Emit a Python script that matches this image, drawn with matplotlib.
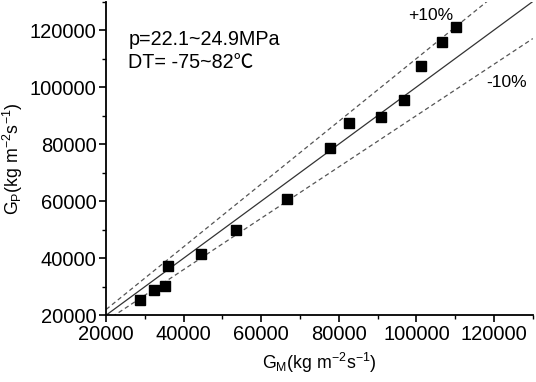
import matplotlib
matplotlib.use("Agg")
import matplotlib.pyplot as plt
import numpy as np
from matplotlib.ticker import MultipleLocator

plt.rcParams['font.family'] = ['Liberation Sans', 'DejaVu Sans']
plt.rcParams['mathtext.fontset'] = 'custom'
plt.rcParams['mathtext.rm'] = 'Liberation Sans'
plt.rcParams['mathtext.it'] = 'Liberation Sans'

g_measured = [28700, 32300, 35300, 36000, 44400, 53400, 66700, 77600, 82500,
              90800, 96900, 101200, 106700, 110300]
g_predicted = [25300, 28900, 30300, 37300, 41600, 49800, 60700, 78800, 87400,
               89600, 95400, 107300, 115700, 121200]
ticks = [20000, 40000, 60000, 80000, 100000, 120000]
line_x = [20000, 130000]

fig = plt.figure(figsize=(5.36, 3.82), dpi=100)
ax = fig.add_axes([0.198, 0.175, 0.796, 0.821])

lx = np.array(line_x)
ax.plot(lx, lx, color='#333333', lw=0.9)
ax.plot(lx, lx * 1.1, color='#555555', lw=0.9, ls=(0, (3.5, 2.5)))
ax.plot(lx, lx * 0.9, color='#555555', lw=0.9, ls=(0, (3.5, 2.5)))
ax.plot(g_measured, g_predicted, 's', color='black', markersize=6.5, clip_on=False)

ax.set_xlim(20000, 130000)
ax.set_ylim(20000, 130000)
ax.set_xticks(ticks)
ax.set_yticks(ticks)
ax.xaxis.set_minor_locator(MultipleLocator(10000))
ax.yaxis.set_minor_locator(MultipleLocator(10000))
ax.tick_params(which='major', direction='out', length=5, width=1.2, labelsize=14.5, pad=2)
ax.tick_params(which='minor', direction='out', length=3, width=1.0)
ax.spines['top'].set_visible(False)
ax.spines['right'].set_visible(False)
ax.spines['left'].set_linewidth(1.3)
ax.spines['bottom'].set_linewidth(1.3)

ax.set_xlabel(r'G$_{\mathregular{M}}$(kg m$^{\mathregular{-2}}$s$^{\mathregular{-1}}$)', fontsize=12.8, labelpad=5)
ax.set_ylabel(r'G$_{\mathregular{P}}$(kg m$^{\mathregular{-2}}$s$^{\mathregular{-1}}$)', fontsize=12.8, labelpad=3)

ax.text(0.052, 0.88, 'p=22.1~24.9MPa', transform=ax.transAxes, fontsize=14.2, va='center')
ax.text(0.052, 0.804, 'DT= -75~82℃', transform=ax.transAxes, fontsize=14.2, va='center',
        family=['Liberation Sans', 'Noto Sans CJK SC', 'DejaVu Sans'])
ax.text(0.761, 0.954, '+10%', transform=ax.transAxes, fontsize=12.5, va='center', ha='center')
ax.text(0.939, 0.743, '-10%', transform=ax.transAxes, fontsize=12.5, va='center', ha='center')

fig.savefig('out.png', dpi=100)
